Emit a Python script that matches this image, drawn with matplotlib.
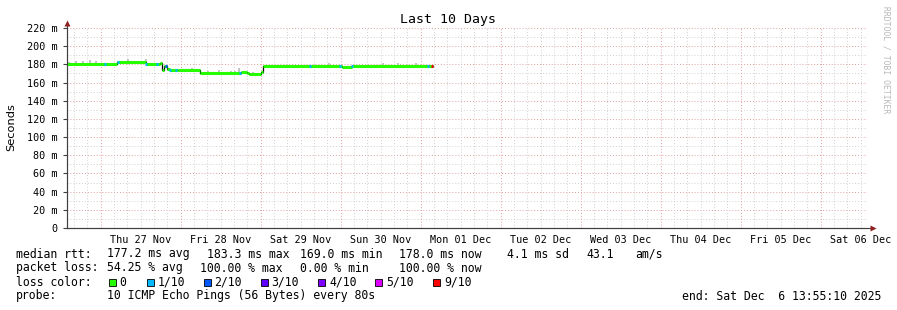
import numpy as np
import matplotlib
matplotlib.use("Agg")
import matplotlib.pyplot as plt
from matplotlib.patches import Rectangle

# hours since start of window (Wed 26 Nov 13:55:10), 10 days = 240 h
seg_start = [0, 15, 23.7, 27.9, 28.5, 29.1, 30.0, 30.9, 33.3, 39.9, 52.2,
             54.0, 54.6, 58.2, 58.8, 82.5, 85.5, 108.6]
seg_end_last = 109.8
median_ms = [180.5, 183, 180.5, 181, 173.5, 178, 175, 173.5, 174, 170, 171.5,
             170.5, 169, 172, 178.5, 177.5, 178.5, 178]

# points where packet loss was not zero (hour, loss class)
loss_t = [11.4, 15.3, 23.7, 27.0, 29.7, 30.9, 32.7, 51.9, 72.9, 81.9, 85.5, 108.3, 109.5]
loss_cls = [1, 1, 1, 1, 2, 1, 1, 1, 1, 1, 1, 1, 9]

# smoke spikes above the median (hour, top of smoke in ms)
smoke_t = [0.6, 2.7, 4.65, 6.9, 8.7, 18.2, 23.7, 37.5, 42.3, 43.2, 45.6,
           49.2, 50.4, 51.6, 55.8, 78.6, 94.8, 99.3, 104.7]
smoke_top = [182.6, 184, 184, 185, 183.5, 185.5, 185.5, 176.5, 172.4, 172.0,
             173.5, 172.5, 172.5, 175.7, 171.6, 181.5, 181, 181.5, 181.5]

loss_colors = {0: "#26ff00", 1: "#00b8ff", 2: "#0059ff", 3: "#5e00ff",
               4: "#7e00ff", 5: "#dd00ff", 9: "#ff0000"}
legend_labels = ["0", "1/10", "2/10", "3/10", "4/10", "5/10", "9/10"]
legend_keys = [0, 1, 2, 3, 4, 5, 9]

day_labels = ["Thu 27 Nov", "Fri 28 Nov", "Sat 29 Nov", "Sun 30 Nov", "Mon 01 Dec",
              "Tue 02 Dec", "Wed 03 Dec", "Thu 04 Dec", "Fri 05 Dec", "Sat 06 Dec"]
first_midnight = 24 - (13 + 55 / 60 + 10 / 3600)

rtt_parts = ["median rtt:", "177.2 ms avg", "183.3 ms max", "169.0 ms min",
             "178.0 ms now", "4.1 ms sd", "43.1", "am/s"]
rtt_x = [16, 107.3, 207.3, 300, 398.5, 507, 586, 635]
loss_parts = ["packet loss:", "54.25 % avg", "100.00 % max", "0.00 % min",
              "100.00 % now"]
loss_x = [16, 107.3, 200, 300, 398.5]

W, H = 897, 310
mono = "DejaVu Sans Mono"
fig = plt.figure(figsize=(W / 100, H / 100), dpi=100)
fig.patch.set_facecolor("white")
ax = fig.add_axes([67 / W, (H - 228) / H, 800 / W, 200 / H])
ax.set_xlim(0, 240)
ax.set_ylim(0, 220)
ax.set_facecolor("white")

# grid
for v in range(10, 221, 10):
    major = v % 20 == 0
    ax.axhline(v, color="#e0a0a0" if major else "#d0d0d0", lw=0.7,
               ls=(0, (1, 2)), zorder=0)
h = first_midnight - 24
while h < 240:
    for k in range(6):
        hh = h + 4 * k
        if 0 < hh < 240:
            ax.axvline(hh, color="#e0a0a0" if k == 0 else "#d0d0d0", lw=0.7,
                       ls=(0, (1, 2)), zorder=0)
    h += 24

# smoke
seg_s = np.array(seg_start)
med = np.array(median_ms)
idx = np.searchsorted(seg_s, smoke_t, side="right") - 1
ax.bar(smoke_t, np.array(smoke_top) - med[idx], bottom=med[idx], width=0.6,
       color="#c4c4c4", zorder=1, linewidth=0)

# median line: black step underneath, coloured horizontals on top
seg_e = list(seg_start[1:]) + [seg_end_last]
xs = []
ys = []
for s, e, m in zip(seg_start, seg_e, median_ms):
    xs += [s, e]
    ys += [m, m]
ax.plot(xs, ys, color="black", lw=0.9, zorder=2)
ax.hlines(median_ms, seg_start, seg_e, color=loss_colors[0], lw=2.2, zorder=3)
lidx = np.searchsorted(seg_s, loss_t, side="right") - 1
for t, c, i in zip(loss_t, loss_cls, lidx):
    ax.hlines(med[i], t - 0.3, t + 0.3, color=loss_colors[c], lw=2.2, zorder=4)

# axes
for sp in ["top", "right"]:
    ax.spines[sp].set_visible(False)
for sp in ["left", "bottom"]:
    ax.spines[sp].set_color("#404040")
    ax.spines[sp].set_linewidth(0.8)
ax.plot([0, 1.007], [0, 0], transform=ax.transAxes, color="#404040", lw=0.8,
        clip_on=False, zorder=5)
ax.plot([0, 0], [0, 1.02], transform=ax.transAxes, color="#404040", lw=0.8,
        clip_on=False, zorder=5)
ax.plot([1.008], [0], marker=">", ms=4, color="#902020", transform=ax.transAxes,
        clip_on=False, zorder=6, mec="none")
ax.plot([0], [1.025], marker="^", ms=4, color="#902020", transform=ax.transAxes,
        clip_on=False, zorder=6, mec="none")

yt = list(range(0, 221, 20))
ax.set_yticks(yt)
ax.set_yticklabels(["0"] + ["%d m" % v for v in yt[1:]], fontfamily=mono,
                   fontsize=7.3)
ax.tick_params(axis="y", length=3, width=0.8, color="#404040", pad=4)
noons = [first_midnight + 12 + 24 * i for i in range(len(day_labels))]
ax.set_xticks(noons)
ax.set_xticklabels(day_labels, fontfamily=mono, fontsize=7.3)
ax.tick_params(axis="x", length=0, pad=5)

# texts
def px(x, y):
    return x / W, 1 - y / H

fig.text(*px(448, 20), "Last 10 Days", ha="center", va="center",
         fontfamily=mono, fontsize=9.5)
fig.text(*px(11, 127), "Seconds", ha="center", va="center", rotation=90,
         fontsize=8.2)
fig.text(*px(886, 60), "RRDTOOL / TOBI OETIKER", ha="center", va="center",
         rotation=270, fontfamily=mono, fontsize=5.8, color="#b8b8b8")

fs = 8.3
for txt, x in zip(rtt_parts, rtt_x):
    fig.text(*px(x, 254), txt, va="center", fontfamily=mono, fontsize=fs)
for txt, x in zip(loss_parts, loss_x):
    fig.text(*px(x, 268), txt, va="center", fontfamily=mono, fontsize=fs)
fig.text(*px(16, 282), "loss color:", va="center", fontfamily=mono, fontsize=fs)
box_x = [108.5, 146.5, 203.5, 260.7, 318, 375.3, 433]
for bx, k, lab in zip(box_x, legend_keys, legend_labels):
    fig.patches.append(Rectangle(px(bx, 285.5), 7 / W, 7 / H,
                                 transform=fig.transFigure, facecolor=loss_colors[k],
                                 edgecolor="black", lw=0.6))
    fig.text(*px(bx + 11, 282), lab, va="center", fontfamily=mono, fontsize=fs)
fig.text(*px(16, 296), "probe:", va="center", fontfamily=mono, fontsize=fs)
fig.text(*px(107.3, 296), "10 ICMP Echo Pings (56 Bytes) every 80s",
         va="center", fontfamily=mono, fontsize=fs)
fig.text(*px(881, 296), "end: Sat Dec  6 13:55:10 2025", ha="right", va="center",
         fontfamily=mono, fontsize=fs)

fig.savefig("out.png", dpi=100)
